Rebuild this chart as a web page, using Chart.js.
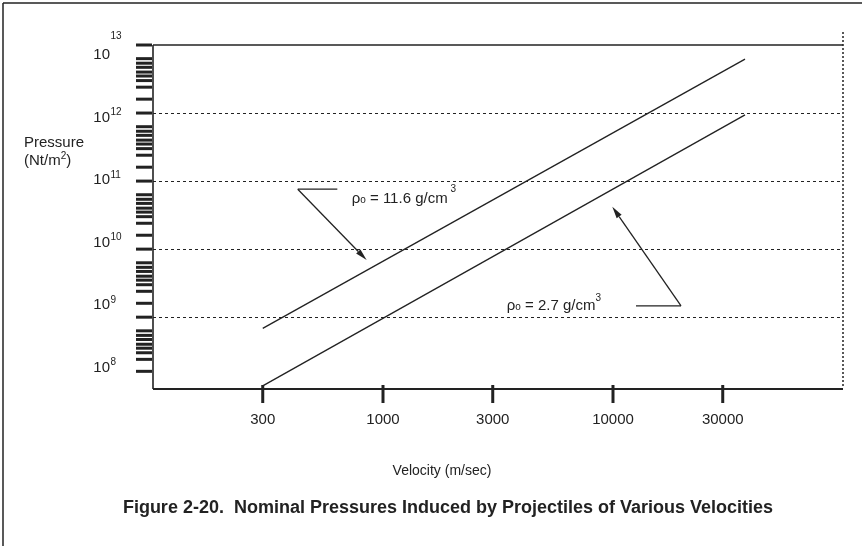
<!DOCTYPE html>
<html><head><meta charset="utf-8">
<script src="https://cdn.jsdelivr.net/npm/chart.js@4/dist/chart.umd.min.js"></script>
<style>html,body{margin:0;padding:0;background:#fff}canvas{display:block}</style>
</head><body>
<canvas id="c" width="862" height="546"></canvas>
<script>
// ---- data ----
const velocityTicks = [300, 1000, 3000, 10000, 30000];
const velocityTickLabels = ['300', '1000', '3000', '10000', '30000'];
const pressureDecades = [1e8, 1e9, 1e10, 1e11, 1e12, 1e13];
const pressureExponents = ['8', '9', '10', '11', '12', '13'];
// minor tick marks as drawn in the figure (multiples within each decade)
const minorMultipliers = [1.6, 2.4, 3, 3.5, 4, 4.7, 5.4, 6.3];
const dashedDecades = [1e9, 1e10, 1e11, 1e12];
const velocity = [300, 37500];
const pressureDense = [6.85e8, 6.2e12];   // rho = 11.6 g/cm3
const pressureLight = [9.8e7, 9.4e11];    // rho = 2.7 g/cm3
const arrowDense = { tail: [633, 7.6e10], corner: [426, 7.6e10], tip: [849, 6.9e9], label: [731, 5.8e10] };
const arrowLight = { tail: [12590, 1.47e9], corner: [19760, 1.47e9], tip: [9930, 4.2e10], label: [3450, 1.56e9] };
const labelDense = [['ρ', 15, 0], ['o', 10, 0], [' = 11.6 g/cm', 15, 0], [' 3', 10, -11]];
const labelLight = [['ρ', 15, 0], ['o', 10, 0], [' = 2.7 g/cm', 15, 0], ['3', 10, -9]];
const xTitle = 'Velocity (m/sec)';
const yTitle1 = 'Pressure';
const yTitle2 = [['(Nt/m', 15, 0], ['2', 10, -6.5], [')', 15, 0]];
const figTitle = 'Figure 2-20.  Nominal Pressures Induced by Projectiles of Various Velocities';

const FONT = '"Liberation Sans", Arial, Helvetica, sans-serif';
const INK = '#222';

const yTickValues = [];
pressureDecades.forEach((d, i) => {
  if (i > 0) yTickValues.push(d);
  if (i < pressureDecades.length - 1) minorMultipliers.forEach(m => yTickValues.push(d * m));
});

function rich(ctx, x, y, parts, weight) {
  ctx.textAlign = 'left'; ctx.textBaseline = 'alphabetic';
  let cx = x;
  parts.forEach(([t, size, dy]) => {
    ctx.font = (weight || '') + ' ' + size + 'px ' + FONT;
    ctx.fillText(t, cx, y + dy);
    cx += ctx.measureText(t).width;
  });
}
function line(ctx, x1, y1, x2, y2, w, dash) {
  ctx.save(); ctx.lineWidth = w; ctx.strokeStyle = INK; ctx.setLineDash(dash || []);
  ctx.beginPath(); ctx.moveTo(x1, y1); ctx.lineTo(x2, y2); ctx.stroke(); ctx.restore();
}
function arrow(ctx, xs, ys, a) {
  const P = p => [xs.getPixelForValue(p[0]), ys.getPixelForValue(p[1])];
  const t = P(a.tail), c = P(a.corner), h = P(a.tip);
  line(ctx, t[0], t[1], c[0], c[1], 1.3);
  const ang = Math.atan2(h[1] - c[1], h[0] - c[0]);
  const L = 12, W = 3;
  const bx = h[0] - L * Math.cos(ang), by = h[1] - L * Math.sin(ang);
  line(ctx, c[0], c[1], bx, by, 1.3);
  ctx.save(); ctx.fillStyle = INK; ctx.beginPath();
  ctx.moveTo(h[0], h[1]);
  ctx.lineTo(bx + W * Math.sin(ang), by - W * Math.cos(ang));
  ctx.lineTo(bx - W * Math.sin(ang), by + W * Math.cos(ang));
  ctx.closePath(); ctx.fill(); ctx.restore();
}

const decor = {
  id: 'decor',
  beforeDatasetsDraw(chart) {
    const ctx = chart.ctx, a = chart.chartArea, xs = chart.scales.x, ys = chart.scales.y;
    // figure frame
    line(ctx, 3, 3, 862, 3, 1.5);
    line(ctx, 3, 3, 3, 546, 1.5);
    // dashed decade lines
    dashedDecades.forEach(v => { const y = Math.round(ys.getPixelForValue(v)) + 0.5; line(ctx, a.left, y, a.right, y, 1, [3, 3]); });
    // plot frame
    line(ctx, a.left, a.top, a.right, a.top, 1.6);
    line(ctx, a.left, a.top, a.left, a.bottom, 1.6);
    line(ctx, a.left, a.bottom, a.right, a.bottom, 2);
    line(ctx, a.right, a.top - 13, a.right, a.bottom - 2, 1.5, [2, 2]);
  },
  afterDraw(chart) {
    const ctx = chart.ctx, a = chart.chartArea, xs = chart.scales.x, ys = chart.scales.y;
    ctx.save(); ctx.fillStyle = INK;
    // y ticks
    yTickValues.forEach(v => { const y = ys.getPixelForValue(v); line(ctx, a.left - 17, y, a.left - 1, y, 3); });
    // y labels
    const top = ys.getPixelForValue(pressureDecades[pressureDecades.length - 1]);
    pressureDecades.forEach((v, i) => {
      const py = ys.getPixelForValue(v);
      const cy = top + 9 + (py - top) * 0.918;
      const base = cy + 5.3;
      ctx.font = '15px ' + FONT; ctx.textAlign = 'right'; ctx.textBaseline = 'alphabetic';
      ctx.fillText('10', a.left - 43, base);
      ctx.font = '10px ' + FONT; ctx.textAlign = 'left';
      const dy = (i === pressureDecades.length - 1) ? -20 : -6.6;
      ctx.fillText(pressureExponents[i], a.left - 42.5, base + dy);
    });
    // x ticks + labels
    velocityTicks.forEach((v, i) => {
      const x = xs.getPixelForValue(v);
      line(ctx, x, a.bottom - 4, x, a.bottom + 14, 3);
      ctx.font = '15px ' + FONT; ctx.textAlign = 'center'; ctx.textBaseline = 'alphabetic';
      ctx.fillText(velocityTickLabels[i], x, a.bottom + 35);
    });
    // axis titles
    ctx.font = '15px ' + FONT; ctx.textAlign = 'left';
    ctx.fillText(yTitle1, 24, 147);
    rich(ctx, 24, 165, yTitle2);
    ctx.font = '14px ' + FONT; ctx.textAlign = 'center';
    ctx.fillText(xTitle, 442, 475);
    // figure title
    ctx.font = 'bold 18px ' + FONT; ctx.textAlign = 'center';
    ctx.fillText(figTitle, 448, 513);
    // annotations
    arrow(ctx, xs, ys, arrowDense);
    arrow(ctx, xs, ys, arrowLight);
    rich(ctx, xs.getPixelForValue(arrowDense.label[0]), ys.getPixelForValue(arrowDense.label[1]) + 6, labelDense);
    rich(ctx, xs.getPixelForValue(arrowLight.label[0]), ys.getPixelForValue(arrowLight.label[1]) + 6, labelLight);
    ctx.restore();
  }
};

new Chart(document.getElementById('c'), {
  type: 'scatter',
  data: {
    datasets: [
      { label: 'ρo = 11.6 g/cm3', data: velocity.map((v, i) => ({ x: v, y: pressureDense[i] })), showLine: true, borderColor: INK, borderWidth: 1.3, pointRadius: 0 },
      { label: 'ρo = 2.7 g/cm3', data: velocity.map((v, i) => ({ x: v, y: pressureLight[i] })), showLine: true, borderColor: INK, borderWidth: 1.3, pointRadius: 0 }
    ]
  },
  options: {
    responsive: false, animation: false, devicePixelRatio: 1,
    layout: { padding: { left: 153, top: 45, right: 19, bottom: 157 } },
    plugins: { legend: { display: false }, tooltip: { enabled: false } },
    scales: {
      x: { type: 'logarithmic', min: 100, max: 100000,
           afterBuildTicks: s => { s.ticks = velocityTicks.map(v => ({ value: v })); },
           afterFit: s => { s.height = 0; },
           ticks: { display: false }, grid: { display: false, drawTicks: false }, border: { display: false } },
      y: { type: 'logarithmic', min: 8.8e7, max: 1e13,
           afterBuildTicks: s => { s.ticks = yTickValues.map(v => ({ value: v })); },
           afterFit: s => { s.width = 0; },
           ticks: { display: false }, grid: { display: false, drawTicks: false }, border: { display: false } }
    }
  },
  plugins: [decor]
});
</script>
</body></html>
